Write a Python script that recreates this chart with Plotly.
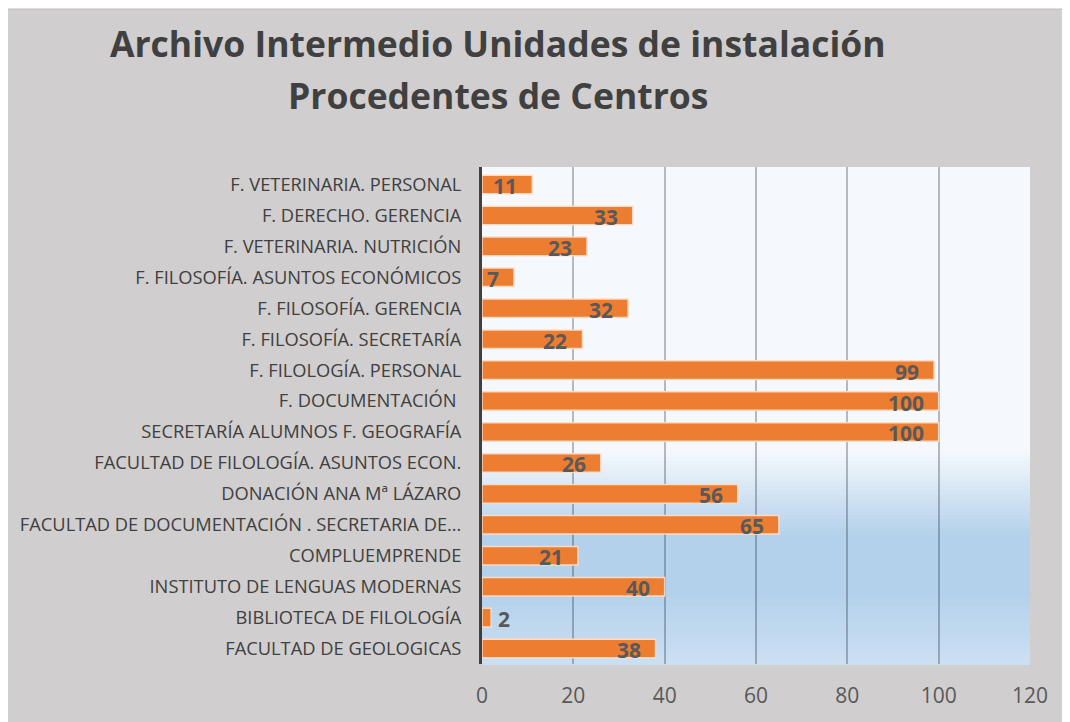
import plotly.graph_objects as go

# ---- data (top to bottom as displayed) ----
categories = [
    "F. VETERINARIA. PERSONAL",
    "F. DERECHO. GERENCIA",
    "F. VETERINARIA. NUTRICIÓN",
    "F. FILOSOFÍA. ASUNTOS ECONÓMICOS",
    "F. FILOSOFÍA. GERENCIA",
    "F. FILOSOFÍA. SECRETARÍA",
    "F. FILOLOGÍA. PERSONAL",
    "F. DOCUMENTACIÓN ",
    "SECRETARÍA ALUMNOS F. GEOGRAFÍA",
    "FACULTAD DE FILOLOGÍA. ASUNTOS ECON.",
    "DONACIÓN ANA Mª LÁZARO",
    "FACULTAD DE DOCUMENTACIÓN . SECRETARIA DE…",
    "COMPLUEMPRENDE",
    "INSTITUTO DE LENGUAS MODERNAS",
    "BIBLIOTECA DE FILOLOGÍA",
    "FACULTAD DE GEOLOGICAS",
]
values = [11, 33, 23, 7, 32, 22, 99, 100, 100, 26, 56, 65, 21, 40, 2, 38]
x_ticks = [0, 20, 40, 60, 80, 100, 120]
title_lines = ["Archivo Intermedio Unidades de instalación", "Procedentes de Centros"]

# ---- style / geometry (page pixels; the page body adds an 8px offset) ----
OFF = 8
W, H = 1070 - OFF, 722 - OFF
PLOT_L, PLOT_R, PLOT_T, PLOT_B = 482, 1030, 167, 664   # page pixels
L = PLOT_L - OFF
R = (W + OFF) - PLOT_R
T = PLOT_T - OFF
B = (H + OFF) - PLOT_B
PW, PH = PLOT_R - PLOT_L, PLOT_B - PLOT_T
FONT = "'Open Sans', sans-serif"
ORANGE = "#ED7D31"
TXT = "#595959"
BG = "#d0cece"

def px_x(px):
    return (px - PLOT_L) / PW

def px_y(py):
    return (PLOT_B - py) / PH

fig = go.Figure(go.Bar(
    y=categories, x=values, orientation="h",
    marker=dict(color=ORANGE, line=dict(color="rgba(252,220,200,0.95)", width=1.5)),
    hoverinfo="skip",
))

shapes = []
# chart frame (gray)
shapes.append(dict(type="rect", xref="paper", yref="paper", layer="below",
                   x0=px_x(7), x1=px_x(1080), y0=px_y(730), y1=px_y(9),
                   fillcolor=BG, line=dict(color="#bdbdbd", width=1)))

# plot-area gradient
stops = [(0.0, (245, 249, 253)), (0.57, (245, 249, 253)), (0.74, (180, 209, 235)),
         (0.86, (180, 209, 235)), (1.0, (203, 224, 242))]

def col_at(f):
    for (f0, c0), (f1, c1) in zip(stops[:-1], stops[1:]):
        if f0 <= f <= f1:
            t = 0 if f1 == f0 else (f - f0) / (f1 - f0)
            return "rgb(%d,%d,%d)" % tuple(round(a + (b - a) * t) for a, b in zip(c0, c1))
    return "rgb(%d,%d,%d)" % stops[-1][1]

N = 120
for i in range(N):
    ftop = i / N
    fbot = (i + 1) / N
    shapes.append(dict(type="rect", xref="paper", yref="paper", layer="below",
                       x0=0, x1=1, y0=1 - fbot - 0.002, y1=1 - ftop,
                       fillcolor=col_at((ftop + fbot) / 2), line=dict(width=0)))

annotations = []
for line, cy in zip(title_lines, [43, 95]):
    annotations.append(dict(text="<b>%s</b>" % line, xref="paper", yref="paper",
                            x=px_x(497.5), y=px_y(cy),
                            xanchor="center", yanchor="middle", showarrow=False,
                            font=dict(family=FONT, size=35.5, color="#404040")))

# value labels
for cat, v in zip(categories, values):
    inside = v >= 5
    annotations.append(dict(
        text="<b>%d</b>" % v, x=v, y=cat, xref="x", yref="y",
        xanchor="right" if inside else "left", yanchor="middle",
        xshift=-13 if inside else 5, yshift=-1.5, showarrow=False,
        font=dict(family=FONT, size=21, color=TXT)))

fig.update_layout(
    width=W, height=H,
    margin=dict(l=L, r=R, t=T, b=B, pad=0, autoexpand=False),
    paper_bgcolor="white", plot_bgcolor="rgba(0,0,0,0)",
    shapes=shapes, annotations=annotations,
    showlegend=False, bargap=0.4,
    font=dict(family=FONT, color=TXT),
    xaxis=dict(range=[0, 120], tickvals=x_ticks, showgrid=True, automargin=False,
               gridcolor="rgba(40,50,60,0.32)", gridwidth=1.5, zeroline=False,
               showline=False, ticks="", tickfont=dict(family=FONT, size=21, color=TXT),
               ticklabelstandoff=17, fixedrange=True),
    yaxis=dict(autorange="reversed", showgrid=False, zeroline=False, automargin=False,
               showline=True, linecolor="#404040", linewidth=3, ticks="",
               tickfont=dict(family=FONT, size=18.3, color="#404040"),
               ticklabelstandoff=14, fixedrange=True),
)

fig.write_html("out.html")
